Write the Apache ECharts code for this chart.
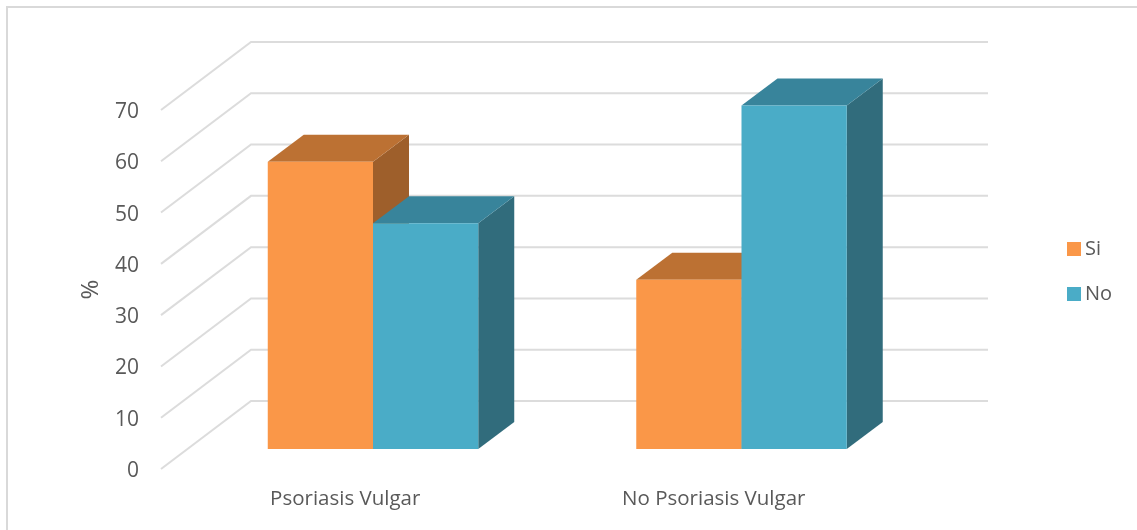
<!DOCTYPE html>
<html>
<head>
<meta charset="utf-8">
<style>html,body{margin:0;padding:0;background:#fff}#chart{width:1137px;height:530px}</style>
<script src="https://cdn.jsdelivr.net/npm/echarts@6/dist/echarts.min.js"></script>
</head>
<body>
<div id="chart"></div>
<script>
const categories = ['Psoriasis Vulgar', 'No Psoriasis Vulgar'];
const siValues = [56, 33];
const noValues = [44, 67];
const yTicks = [0, 10, 20, 30, 40, 50, 60, 70];

const TEXT = '#595959';
const FONT = '"Open Sans", sans-serif';
const WALL = { dx: 90, dy: -68 };     // floor depth of the 3D box
const BAR = { dx: 36, dy: -27, shiftX: 27.75, shiftY: -20, share: 0.2856 };

// Grid lines: a diagonal across the side wall, then a run along the back wall.
function renderWall(params, api) {
  const cs = params.coordSys;
  const y = api.coord([0, api.value(1)])[1];
  return {
    type: 'polyline',
    shape: { points: [[cs.x, y], [cs.x + WALL.dx, y + WALL.dy], [cs.x + cs.width + WALL.dx, y + WALL.dy]] },
    style: { fill: 'none', stroke: '#dcdcdc', lineWidth: 2 }
  };
}

// Box bar: front face, top face and side face, placed beside its neighbour.
function boxRenderer(side, front, top, flank) {
  return function (params, api) {
    const w = api.size([1, 0])[0] * BAR.share;
    const centre = api.coord([api.value(0), 0])[0] + BAR.shiftX;
    const x0 = side < 0 ? centre - w : centre;
    const x1 = x0 + w;
    const yB = api.coord([api.value(0), 0])[1] + BAR.shiftY;
    const yT = api.coord([api.value(0), api.value(1)])[1] + BAR.shiftY;
    const face = (pts, fill) => ({ type: 'polygon', shape: { points: pts }, style: { fill: fill } });
    return {
      type: 'group',
      children: [
        face([[x1, yT], [x1 + BAR.dx, yT + BAR.dy], [x1 + BAR.dx, yB + BAR.dy], [x1, yB]], flank),
        face([[x0, yT], [x0 + BAR.dx, yT + BAR.dy], [x1 + BAR.dx, yT + BAR.dy], [x1, yT]], top),
        face([[x0, yT], [x1, yT], [x1, yB], [x0, yB]], front)
      ]
    };
  };
}

const chart = echarts.init(document.getElementById('chart'), null, { renderer: 'canvas' });
chart.setOption({
  animation: false,
  backgroundColor: '#ffffff',
  textStyle: { fontFamily: FONT },
  graphic: [{
    type: 'polyline',
    silent: true,
    shape: { points: [[7, 530], [7, 7], [1137, 7]] },
    style: { fill: 'none', stroke: '#d9d9d9', lineWidth: 2 }
  }],
  grid: { left: 161, top: 110, width: 737, height: 359 },
  legend: {
    data: ['Si', 'No'],
    orient: 'vertical',
    left: 1067,
    top: 239,
    padding: 0,
    icon: 'rect',
    itemWidth: 14,
    itemHeight: 14,
    itemGap: 25,
    textStyle: { color: TEXT, fontSize: 20, fontFamily: FONT, padding: [0, 0, 0, -1] }
  },
  xAxis: {
    type: 'category',
    data: categories,
    axisLine: { show: false },
    axisTick: { show: false },
    axisLabel: { color: TEXT, fontSize: 20.5, fontFamily: FONT, margin: 20 }
  },
  yAxis: {
    type: 'value',
    min: 0,
    max: 70,
    interval: 10,
    name: '%',
    nameLocation: 'middle',
    nameGap: 58,
    nameTextStyle: { color: TEXT, fontSize: 24, fontFamily: FONT },
    axisLine: { show: false },
    axisTick: { show: false },
    splitLine: { show: false },
    axisLabel: { color: TEXT, fontSize: 21, fontFamily: FONT, margin: 22, verticalAlign: 'top', lineHeight: 4 }
  },
  series: [
    {
      name: 'wall',
      type: 'custom',
      silent: true,
      z: 1,
      renderItem: renderWall,
      encode: { x: 0, y: 1 },
      data: yTicks.map(v => [0, v])
    },
    {
      name: 'Si',
      type: 'custom',
      z: 2,
      itemStyle: { color: '#fa9748' },
      renderItem: boxRenderer(-1, '#fa9748', '#bc7133', '#9e5f2b'),
      encode: { x: 0, y: 1 },
      data: siValues.map((v, i) => [i, v])
    },
    {
      name: 'No',
      type: 'custom',
      z: 3,
      itemStyle: { color: '#4aacc7' },
      renderItem: boxRenderer(1, '#4aacc7', '#38849b', '#316c7c'),
      encode: { x: 0, y: 1 },
      data: noValues.map((v, i) => [i, v])
    }
  ]
});
</script>
</body>
</html>
